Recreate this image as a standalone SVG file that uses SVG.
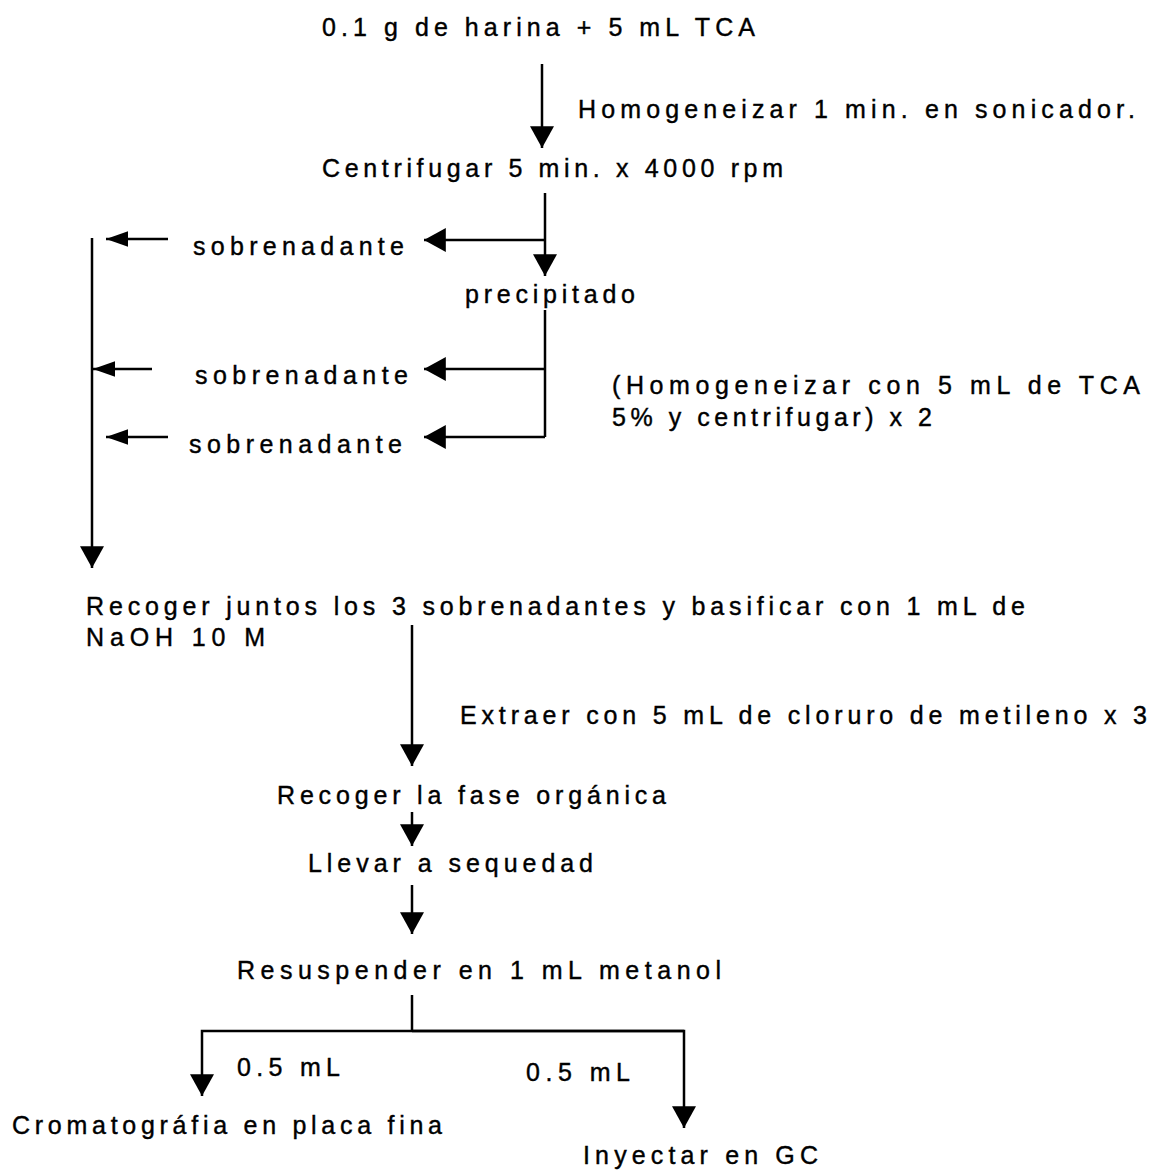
<svg xmlns="http://www.w3.org/2000/svg" width="1152" height="1173" viewBox="0 0 1152 1173">
<defs>
<marker id="ah" markerUnits="userSpaceOnUse" markerWidth="24" markerHeight="24" viewBox="0 0 20 22" refX="20" refY="11" orient="auto">
<path d="M0,0 L20,11 L0,22 Z" fill="#000"/>
</marker>
<marker id="ahs" markerUnits="userSpaceOnUse" markerWidth="22" markerHeight="16" viewBox="0 0 20 14" refX="20" refY="7" orient="auto">
<path d="M0,0 L20,7 L0,14 Z" fill="#000"/>
</marker>
</defs>
<style>
text{font-family:"Liberation Sans",Arial,sans-serif;font-size:25px;fill:#000;stroke:#000;stroke-width:0.4px;}
.c line,.c polyline{stroke:#000;stroke-width:2.5;fill:none;}
.a{marker-end:url(#ah);}
.s{marker-end:url(#ahs);}
</style>
<rect width="1152" height="1173" fill="#fff"/>
<g class="c" id="connectors">
<line class="a" x1="542" y1="64" x2="542" y2="148"/>
<line class="a" x1="545" y1="193" x2="545" y2="276"/>
<line class="a" x1="545" y1="240" x2="424" y2="240"/>
<line class="s" x1="168" y1="239" x2="106" y2="239"/>
<line class="a" x1="92" y1="238" x2="92" y2="568"/>
<polyline points="545,310 545,437"/>
<line class="a" x1="545" y1="369" x2="424" y2="369"/>
<line class="a" x1="545" y1="437" x2="424" y2="437"/>
<line class="s" x1="152" y1="369" x2="93" y2="369"/>
<line class="s" x1="168" y1="437" x2="106" y2="437"/>
<line class="a" x1="412" y1="625" x2="412" y2="766"/>
<line class="a" x1="412" y1="812" x2="412" y2="846"/>
<line class="a" x1="412" y1="885" x2="412" y2="934"/>
<polyline points="412,995 412,1031"/>
<polyline class="a" points="684,1031 202,1031 202,1096"/>
<polyline class="a" points="412,1031 684,1031 684,1128"/>
</g>
<g id="n1"><text x="322" y="36" textLength="433" lengthAdjust="spacing">0.1 g de harina + 5 mL TCA</text></g>
<g id="l1"><text x="578" y="118" textLength="557" lengthAdjust="spacing">Homogeneizar 1 min. en sonicador.</text></g>
<g id="n2"><text x="322" y="177" textLength="461" lengthAdjust="spacing">Centrifugar 5 min. x 4000 rpm</text></g>
<g id="s1"><text x="193" y="255" textLength="211" lengthAdjust="spacing">sobrenadante</text></g>
<g id="n3"><text x="465" y="303" textLength="170" lengthAdjust="spacing">precipitado</text></g>
<g id="s2"><text x="195" y="384" textLength="213" lengthAdjust="spacing">sobrenadante</text></g>
<g id="s3"><text x="189" y="453" textLength="213" lengthAdjust="spacing">sobrenadante</text></g>
<g id="l2">
<text x="612" y="394" textLength="528" lengthAdjust="spacing">(Homogeneizar con 5 mL de TCA</text>
<text x="612" y="426" textLength="320" lengthAdjust="spacing">5% y centrifugar) x 2</text>
</g>
<g id="n4">
<text x="86" y="615" textLength="939" lengthAdjust="spacing">Recoger juntos los 3 sobrenadantes y basificar con 1 mL de</text>
<text x="86" y="646" textLength="179" lengthAdjust="spacing">NaOH 10 M</text>
</g>
<g id="l3"><text x="460" y="724" textLength="687" lengthAdjust="spacing">Extraer con 5 mL de cloruro de metileno x 3</text></g>
<g id="n5"><text x="277" y="804" textLength="389" lengthAdjust="spacing">Recoger la fase orgánica</text></g>
<g id="n6"><text x="308" y="872" textLength="285" lengthAdjust="spacing">Llevar a sequedad</text></g>
<g id="n7"><text x="237" y="979" textLength="484" lengthAdjust="spacing">Resuspender en 1 mL metanol</text></g>
<g id="l4"><text x="237" y="1076" textLength="103" lengthAdjust="spacing">0.5 mL</text></g>
<g id="l5"><text x="526" y="1081" textLength="104" lengthAdjust="spacing">0.5 mL</text></g>
<g id="n8"><text x="12" y="1134" textLength="430" lengthAdjust="spacing">Cromatográfia en placa fina</text></g>
<g id="n9"><text x="583" y="1164" textLength="235" lengthAdjust="spacing">Inyectar en GC</text></g>
</svg>
